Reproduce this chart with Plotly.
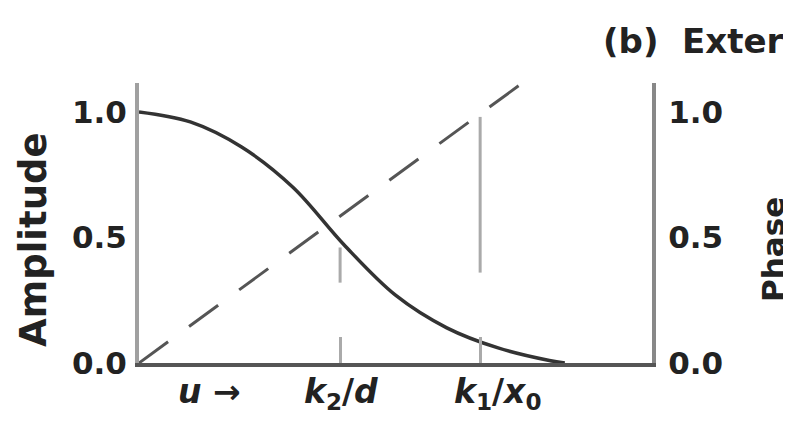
import plotly.graph_objects as go

# amplitude curve (left axis)
amp_u = [0, 0.1, 0.2, 0.3, 0.4, 0.5, 0.6, 0.7, 0.8, 0.83]
amp_v = [1.0, 0.96, 0.86, 0.70, 0.47, 0.27, 0.14, 0.06, 0.01, 0.0]

# phase line (right axis), dashed
phase_u = [0, 0.744]
phase_v = [0, 1.11]

# gray vertical markers at k2/d and k1/x0
k2_u = [0.392, 0.392]
k2_v = [0.32, 0.46]
k1_u = [0.665, 0.665]
k1_v = [0.36, 0.98]

x_ticks = [0.392, 0.665]
x_label_pos = [0.137, 0.394, 0.699]
x_labels = ['<i>u</i> \u2192', '<i>k</i><sub>2</sub>/<i>d</i>', '<i>k</i><sub>1</sub>/<i>x</i><sub>0</sub>']
y_ticks = [0.0, 0.5, 1.0]
y_ticktext = ['0.0', '0.5', '1.0']

FONT = 'DejaVu Sans'
W, H = 791, 433
OFF = 8  # page body margin shifts the figure on screen
ML, MR, MT, MB = 139 - OFF, 791 - 652 + OFF, 83 - OFF, 433 - 363 + OFF


# screen pixel -> paper coordinates
def px_x(sx):
    return (sx - OFF - ML) / (W - ML - MR)


def px_y(sy):
    return (H - MB - (sy - OFF)) / (H - MT - MB)


fig = go.Figure()
fig.add_trace(go.Scatter(x=amp_u, y=amp_v, mode='lines', line=dict(color='#333333', width=3.5, shape='spline', smoothing=1),
                         showlegend=False))
fig.add_trace(go.Scatter(x=phase_u, y=phase_v, mode='lines', yaxis='y2',
                         line=dict(color='#555555', width=3, dash='36px,26px'), showlegend=False))
fig.add_trace(go.Scatter(x=k2_u, y=k2_v, mode='lines', line=dict(color='#aaaaaa', width=3), showlegend=False))
fig.add_trace(go.Scatter(x=k1_u, y=k1_v, mode='lines', yaxis='y2', line=dict(color='#aaaaaa', width=3),
                         showlegend=False))

for pos, txt in zip(x_label_pos, x_labels):
    fig.add_annotation(x=pos, y=0, xref='x', yref='paper', text=txt, showarrow=False,
                       font=dict(family=FONT, size=33, color='#222222', weight='bold'),
                       xanchor='center', yanchor='top', yshift=-7)

fig.add_annotation(x=px_x(33), y=px_y(240), xref='paper', yref='paper', text='Amplitude', textangle=-90,
                   showarrow=False, xanchor='center', yanchor='middle',
                   font=dict(family=FONT, size=37, color='#222222', weight='bold'))
fig.add_annotation(x=px_x(601), y=px_y(41), xref='paper', yref='paper', text='(b)  Exter', showarrow=False,
                   xanchor='left', yanchor='middle',
                   font=dict(family=FONT, size=34, color='#222222', weight='bold'))
fig.add_annotation(x=px_x(773), y=px_y(250), xref='paper', yref='paper', text='Phase', textangle=-90,
                   showarrow=False, xanchor='center', yanchor='middle',
                   font=dict(family=FONT, size=31, color='#222222', weight='bold'))

fig.update_layout(
    width=W, height=H,
    margin=dict(l=ML, r=MR, t=MT, b=MB),
    plot_bgcolor='white', paper_bgcolor='white',
    xaxis=dict(range=[0, 1], showgrid=False, zeroline=False, showline=True, linecolor='#555555', linewidth=4,
               tickvals=x_ticks, ticks='inside', ticklen=26, tickwidth=3, tickcolor='#aaaaaa',
               showticklabels=False),
    yaxis=dict(range=[0, 1.115], showgrid=False, zeroline=False, showline=True, linecolor='#a0a0a0', linewidth=4,
               tickvals=y_ticks, ticktext=y_ticktext, ticks='', ticklabelstandoff=2,
               tickfont=dict(family=FONT, size=31, color='#222222', weight='bold')),
    yaxis2=dict(range=[0, 1.115], overlaying='y', side='right', showgrid=False, zeroline=False, showline=True,
                linecolor='#888888', linewidth=4, tickvals=y_ticks, ticktext=y_ticktext, ticks='',
                ticklabelstandoff=6, tickfont=dict(family=FONT, size=31, color='#222222', weight='bold')),
)

fig.write_html("out.html")
